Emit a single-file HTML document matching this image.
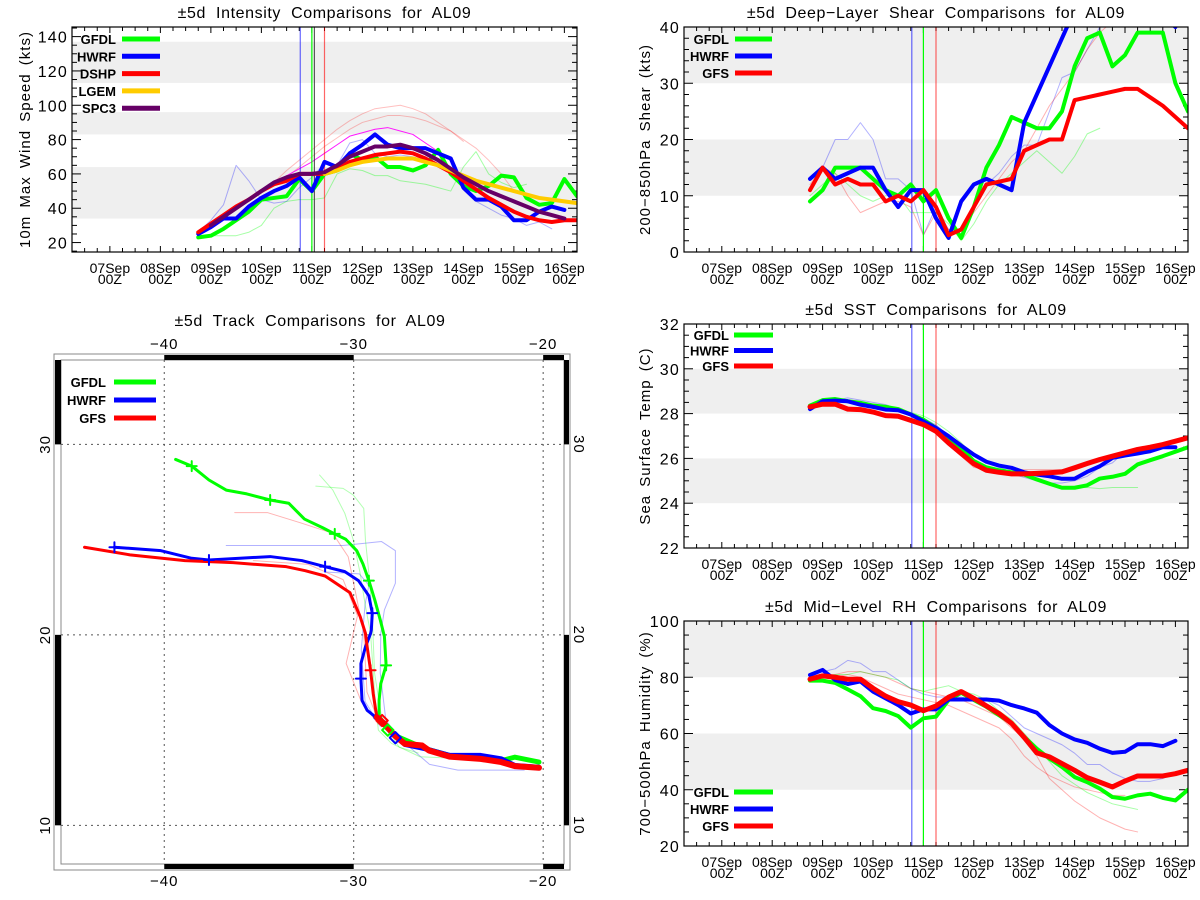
<!DOCTYPE html>
<html><head><meta charset="utf-8"><title>AL09 comparisons</title>
<style>
html,body{margin:0;padding:0;background:#fff;}
svg{display:block;font-family:"Liberation Sans",sans-serif;}
</style></head>
<body>
<svg id="fig" width="1200" height="900" viewBox="0 0 1200 900" xmlns="http://www.w3.org/2000/svg"></svg>
<script>
const dateLabels = ["07Sep","08Sep","09Sep","10Sep","11Sep","12Sep","13Sep","14Sep","15Sep","16Sep"];
const hourLabel = "00Z";
const seriesStart = 1.75;
const stepDays = 0.25;
const initTimes = [3.77, 4.0, 4.25];

const intGFDL = [23,24,28,33,38,45,46,47,57,50,60,62,72,68,70,64,64,62,65,74,60,53,50,53,59,58,46,42,43,57,47];
const intHWRF = [25,29,34,34,41,46,50,53,58,50,67,64,72,77,83,77,75,75,75,72,69,52,45,45,41,33,33,38,41,39];
const intDSHP = [26,31,36,41,45,50,54,56,60,60,60,63,67,69,71,72,73,72,69,65,61,56,51,46,42,38,35,33,32,33,33];
const intLGEM = [60,62,65,67,68,69,69,69,67,65,62,59,56,54,52,50,48,46,45,44,43];
const intLGEMStart = 4.25;
const intSPC3 = [30,35,40,45,50,55,58,60,60,61,65,70,73,76,76,77,75,72,68,63,58,54,50,47,44,41,38,36,34];
const intSPC3Start = 2.0;
const intThinRedA = [55,62,68,74,80,86,91,95,98,99,100,98,95,90,85,79];
const intThinRedB = [53,58,64,70,76,81,86,90,92,94,94,93,91,88,85,80,75,68,60,50];
const intThinMag = [55,59,63,67,72,77,82,84,86,87,85,83,78,73];
const intThinStart = 3.25;
const intThinBlue = [26,33,42,65,56,45,43,44,52,58,66,65,78,80,72,70,71,70,68,66,62,55,44,40,36,34,30,32,28];
const intThinGreen = [24,24,24,26,30,40,44,45,45,46,60,63,62,59,59,56,55,54,52,50,64,73,60,55,52,54];
const intThinGreenStart = 2.0;

const shrGFDL = [9,11,15,15,15,13,11,10,12,9,11,6,2.5,8,15,19,24,23,22,22,25,33,38,39,33,35,39,39,39,30,25];
const shrHWRF = [13,15,13,14,15,15,11,8,11,11,6,2.5,9,12,13,12,11,23,28,33,38,43,46,48,47,46,45,44,42,40];
const shrGFS  = [11,15,12,13,12,12,9,10,9,11,8,3,4,8,12,12.5,13,18,19,20,20,27,27.5,28,28.5,29,29,27.5,26,24,22];
const shrThinBlue = [13,15,20,20,23,20,13,13,11,3,8,4,4,8,12,14,17,19,19,25,31,32,36,40,42];
const shrThinRed  = [12,15,14,10,7,8,9,9,8,3,7,4,4,7,10,13,16,18,22,26,29,32,36,39,41];
const shrThinGreen= [10,12,14,12,10,9,10,10,7,7,7,5,2,5,9,12,14,16,18,16,14,17,21,22];
const shrThinStart = 1.75;

const sstGFDL = [28.36,28.6,28.65,28.55,28.48,28.36,28.3,28.2,27.96,27.73,27.36,26.9,26.47,25.88,25.6,25.47,25.38,25.28,25.06,24.87,24.69,24.69,24.8,25.1,25.18,25.31,25.73,25.92,26.1,26.3,26.5];
const sstHWRF = [28.2,28.55,28.58,28.55,28.4,28.3,28.18,28.15,27.96,27.66,27.36,26.99,26.57,26.17,25.85,25.68,25.58,25.38,25.28,25.2,25.09,25.09,25.4,25.65,26.02,26.13,26.22,26.32,26.5,26.5];
const sstGFS  = [28.3,28.42,28.42,28.2,28.18,28.07,27.91,27.88,27.7,27.51,27.21,26.69,26.22,25.76,25.47,25.38,25.31,25.31,25.33,25.36,25.4,25.58,25.77,25.95,26.1,26.25,26.4,26.5,26.62,26.77,26.92];
const sstThinBlue = [28.3,28.5,28.6,28.7,28.6,28.5,28.4,28.2,28.0,27.8,27.5,27.0,26.4,25.9,25.6,25.45,25.3,25.15,25.0,24.9,24.9,25.0,25.2,25.6,25.8,26.3];
const sstThinRed  = [28.3,28.4,28.4,28.3,28.2,28.1,28.0,27.9,27.8,27.6,27.2,26.6,26.1,25.6,25.5,25.45,25.5,25.5,25.5,25.5,25.5,25.6,25.7,25.9,26.0];
const sstThinGreen= [28.3,28.5,28.6,28.5,28.4,28.35,28.3,28.2,28.05,27.9,27.6,27.2,26.7,26.1,25.8,25.6,25.4,25.2,25.0,24.8,24.7,24.7,24.7,24.65,24.7,24.7,24.7];

const rhGFDL = [78.8,78.8,78,75.7,73.3,69,68,66.2,62.1,65.4,66,71.9,74.5,71.9,69.5,66.5,63.6,58.8,54.6,51.1,48.1,44.5,42.7,40.4,37.4,36.8,38,38.6,37.1,36.2,40];
const rhHWRF = [80.8,82.6,79,77.6,78.5,74.9,72.5,70.1,67.1,68.6,68.6,72.1,72.1,72.1,72.1,71.7,70.1,68.9,67.4,63,60,57.9,56.7,54.6,53.1,53.5,56.2,56.2,55.5,57.4];
const rhGFS  = [79.3,80.5,80,79.3,79.3,76.1,73.3,71.3,70.1,68.1,69.8,72.9,74.9,72.5,69.8,67.1,63.6,58.6,53.1,51.7,49.3,46.9,44.3,42.7,41,43.1,44.9,44.9,44.9,45.7,46.9];
const rhThinBlue = [81,82,83,86,85,82,82,79,76,74,73,73,73,72,72,70,66,62,60,58,56,53,49,49,46,44,43,43,44,46];
const rhThinRedA = [80,81,81,82,82,81,80,78,76,75,74,73,72,70,68,66,62,58,52,44,40,36,33,30,28,26,25];
const rhThinRedB = [80,80,80,81,80,78,76,74,73,72,71,70,68,66,64,62,58,52,48,45,43,41,40,39,38,38];
const rhThinGreen= [79,80,81,81,82,81,80,79,76,75,76,77,75,74,72,68,65,60,55,50,45,42,39,37,35,34,33];

const trkGFDL = [[-39.4,29.21],[-38.55,28.86],[-37.64,28.13],[-36.73,27.6],[-35.64,27.4],[-34.41,27.08],[-33.43,26.91],[-32.6,26.08],[-31.65,25.63],[-31.0,25.3],[-30.42,25.02],[-29.84,24.42],[-29.51,23.72],[-29.2,22.85],[-28.89,21.84],[-28.6,20.79],[-28.38,19.92],[-28.29,18.4],[-28.57,17.44],[-28.66,16.56],[-28.66,15.68],[-28.29,15.16],[-27.84,14.72],[-26.21,14.02],[-24.94,13.67],[-23.3,13.58],[-22.03,13.44],[-21.49,13.58],[-20.22,13.32]];
const trkHWRF = [[-42.63,24.6],[-40.18,24.42],[-38.55,24.02],[-37.64,23.93],[-36.01,24.02],[-34.41,24.11],[-32.74,23.9],[-31.51,23.58],[-30.47,23.32],[-29.75,22.85],[-29.2,22.05],[-29.02,21.14],[-29.07,20.26],[-29.11,20.07],[-29.38,19.37],[-29.62,18.49],[-29.62,17.7],[-29.56,16.56],[-29.29,16.04],[-28.84,15.68],[-28.38,15.33],[-27.84,14.72],[-27.3,14.25],[-26.21,14.02],[-24.94,13.67],[-23.3,13.67],[-22.21,13.49],[-21.49,13.14],[-20.22,13.05]];
const trkGFS = [[-44.21,24.6],[-41.81,24.2],[-38.91,23.9],[-36.37,23.79],[-33.56,23.58],[-32.56,23.37],[-31.51,23.09],[-30.2,22.22],[-29.66,20.96],[-29.38,20.08],[-29.29,19.37],[-29.11,18.14],[-28.97,16.91],[-28.78,15.68],[-28.38,15.33],[-27.84,14.72],[-27.3,14.28],[-26.39,14.19],[-26.03,13.93],[-24.94,13.61],[-23.3,13.49],[-22.21,13.32],[-21.49,13.11],[-20.22,13.02]];
const trkMarksGFDL = [[-38.55,28.86],[-34.41,27.08],[-31.0,25.3],[-29.2,22.85],[-28.29,18.4]];
const trkMarksHWRF = [[-42.63,24.6],[-37.64,23.93],[-31.51,23.58],[-29.02,21.14],[-29.62,17.7]];
const trkMarksGFS = [[-29.11,18.14]];
const trkThinRed = [[-36.28,26.42],[-34.56,26.42],[-32.83,25.89],[-31.11,25.33],[-30.29,24.1],[-29.93,22.36],[-29.47,20.09],[-29.3,17.0],[-28.7,15.5]];
const trkThinRed2 = [[-35.3,23.9],[-32.4,23.7],[-30.56,22.9],[-29.8,21.0],[-30.4,18.5],[-29.6,16.5],[-28.7,15.3]];
const trkThinBlue = [[-36.73,24.69],[-30.56,24.69],[-28.53,24.9],[-27.8,24.42],[-27.8,22.71],[-28.38,21.31],[-28.57,20.09],[-28.6,18.0],[-28.3,15.5],[-27.5,14.5],[-26.0,13.2],[-24.5,12.9],[-21.0,12.9]];
const trkThinBlue2 = [[-31.5,23.3],[-29.7,23.2],[-29.2,22.6],[-29.4,21.6],[-29.6,19.2],[-29.4,16.5],[-28.6,15.2]];
const trkThinGreen = [[-31.8,28.39],[-31.1,27.6],[-30.47,26.38],[-30.02,24.98],[-29.66,23.23],[-29.38,21.49],[-29.11,20.09],[-28.9,17.0],[-28.7,15.0],[-28.0,14.3],[-26.5,13.6],[-24.3,13.5]];
const trkThinGreen2 = [[-32.0,27.81],[-30.56,27.69],[-30.02,27.34],[-29.47,26.64],[-29.38,24.98],[-29.2,23.23],[-29.02,20.96],[-28.9,18.0],[-28.5,15.5],[-27.6,14.1],[-26.6,13.8]];
const lonTicks = [-40,-30,-20];
const latTicks = [10,20,30];
</script>
<script>
const NS = "http://www.w3.org/2000/svg";
const svg = document.getElementById("fig");
function mk(tag, attrs, parent) {
  const e = document.createElementNS(NS, tag);
  for (const k in attrs) e.setAttribute(k, attrs[k]);
  (parent || svg).appendChild(e);
  return e;
}
function txt(str, attrs, parent) {
  const e = mk("text", attrs, parent);
  e.textContent = str;
  return e;
}
const GREEN = "#00ff00", BLUE = "#0000ff", RED = "#ff0000", YEL = "#ffcc00", PUR = "#660066", BAND = "#efefef";

function makePanel(cfg) {
  const g = mk("g", {});
  
  
  const X = t => cfg.x0 + (t - cfg.tmin) / (cfg.tmax - cfg.tmin) * (cfg.x1 - cfg.x0);
  const Y = v => cfg.y1 - (v - cfg.vmin) / (cfg.vmax - cfg.vmin) * (cfg.y1 - cfg.y0);
  const cid = cfg.name + "-clip";
  const cp = mk("clipPath", {id: cid}, g);
  mk("rect", {x: cfg.x0, y: cfg.y0, width: cfg.x1 - cfg.x0, height: cfg.y1 - cfg.y0}, cp);
  cfg.bands.forEach(b => {
    const r = mk("rect", {x: cfg.x0, y: Y(Math.min(b[1], cfg.vmax)), width: cfg.x1 - cfg.x0, height: Y(b[0]) - Y(Math.min(b[1], cfg.vmax)), fill: BAND}, g);
    
    
  });
  const tt = txt(cfg.title, {x: (cfg.x0 + cfg.x1) / 2, y: cfg.y0 - 9, "text-anchor": "middle", "font-size": 16, "letter-spacing": 0.6, "word-spacing": 5, fill: "#000"}, g);
  
  
  const yl = txt(cfg.ylabel, {x: 0, y: 0, "text-anchor": "middle", "font-size": 15, "letter-spacing": 1, "word-spacing": 3, transform: `translate(${cfg.ylx},${(cfg.y0 + cfg.y1) / 2}) rotate(-90)`}, g);
  
  
  const tickG = mk("g", {stroke: "#000", "stroke-width": 1}, g);
  for (let t = Math.ceil(cfg.tmin * 4) / 4; t <= cfg.tmax + 1e-6; t += 0.25) {
    const x = X(t);
    const major = Math.abs(t - Math.round(t)) < 1e-6;
    const len = major ? 6 : 4;
    mk("line", {x1: x, x2: x, y1: cfg.y1, y2: cfg.y1 - len}, tickG);
    mk("line", {x1: x, x2: x, y1: cfg.y0, y2: cfg.y0 + len}, tickG);
  }
  dateLabels.forEach((d, i) => {
    const x = X(i);
    const l1 = txt(d, {x: x, y: cfg.y1 + 21, "text-anchor": "middle", "font-size": 14}, g);
    
    
    const l2 = txt(hourLabel, {x: x, y: cfg.y1 + 32, "text-anchor": "middle", "font-size": 14}, g);
    
    
  });
  for (let v = cfg.vminTick; v <= cfg.vmax + 1e-6; v += cfg.minor) {
    if (v < cfg.vmin) continue;
    const y = Y(v);
    const major = Math.abs((v - cfg.majorBase) / cfg.major - Math.round((v - cfg.majorBase) / cfg.major)) < 1e-6;
    const len = major ? 9 : 5;
    mk("line", {x1: cfg.x0, x2: cfg.x0 + len, y1: y, y2: y}, tickG);
    mk("line", {x1: cfg.x1, x2: cfg.x1 - len, y1: y, y2: y}, tickG);
    if (major) {
      const yt = txt(cfg.fmt(v), {x: cfg.x0 - 4, y: y + 6, "text-anchor": "end", "font-size": 16, "letter-spacing": 1.2}, g);
      
      
    }
  }
  const series = mk("g", {"clip-path": `url(#${cid})`, fill: "none", "stroke-linejoin": "round", "stroke-linecap": "round"}, g);
  (cfg.thin || []).forEach(s => {
    const pts = s.vals.map((v, i) => X(s.start + i * stepDays) + "," + Y(v)).join(" ");
    const pl = mk("polyline", {points: pts, stroke: s.color, "stroke-width": 1, opacity: s.op || 0.3}, series);
    
    
  });
  cfg.inits.forEach(s => {
    const l = mk("line", {x1: X(s.t), x2: X(s.t), y1: cfg.y0, y2: cfg.y1, stroke: s.color, "stroke-width": 1.2, opacity: s.op}, series);
    
    
  });
  cfg.series.forEach(s => {
    const pts = s.vals.map((v, i) => X(s.start + i * stepDays) + "," + Y(v)).join(" ");
    const pl = mk("polyline", {points: pts, stroke: s.color, "stroke-width": s.w || 4}, series);
    
    
  });
  mk("rect", {x: cfg.x0, y: cfg.y0, width: cfg.x1 - cfg.x0, height: cfg.y1 - cfg.y0, fill: "none", stroke: "#000", "stroke-width": 1.2}, g);
  const lg = mk("g", {}, g);
  
  
  cfg.legend.forEach((e, i) => {
    const y = cfg.legY + i * cfg.legDy;
    const le = mk("g", {}, lg);
    
    
    txt(e[0], {x: cfg.legTx, y: y + 5, "text-anchor": "end", "font-size": 13, "font-weight": "bold"}, le);
    mk("line", {x1: cfg.legL0, x2: cfg.legL1, y1: y, y2: y, stroke: e[1], "stroke-width": 5}, le);
  });
}

const tmin = -0.75, tmax = 9.25;
makePanel({
  name: "intensity-panel", title: "\u00b15d Intensity Comparisons for AL09", ylabel: "10m Max Wind Speed (kts)", ylx: 30,
  x0: 72, x1: 577, y0: 27, y1: 252, tmin, tmax, vmin: 14.5, vmax: 145.6, vminTick: 15, minor: 5, major: 20, majorBase: 0,
  fmt: v => String(v), bands: [[34, 64], [83, 96], [113, 137]],
  inits: [{t: initTimes[0], color: BLUE, op: 0.6}, {t: initTimes[1], color: GREEN, op: 1}, {t: initTimes[1] + 0.05, color: "#333", op: 0.8}, {t: initTimes[2], color: RED, op: 0.6}],
  thin: [
    {vals: intThinRedA, start: intThinStart, color: RED, op: 0.25},
    {vals: intThinRedB, start: intThinStart, color: RED, op: 0.25},
    {vals: intThinMag, start: intThinStart, color: "#ff00ff", op: 0.9},
    {vals: intThinBlue, start: seriesStart, color: BLUE, op: 0.3},
    {vals: intThinGreen, start: intThinGreenStart, color: GREEN, op: 0.35}
  ],
  series: [
    {key: "gfdl", vals: intGFDL, start: seriesStart, color: GREEN},
    {key: "hwrf", vals: intHWRF, start: seriesStart, color: BLUE},
    {key: "dshp", vals: intDSHP, start: seriesStart, color: RED},
    {key: "lgem", vals: intLGEM, start: intLGEMStart, color: YEL},
    {key: "spc3", vals: intSPC3, start: intSPC3Start, color: PUR}
  ],
  legend: [["GFDL", GREEN], ["HWRF", BLUE], ["DSHP", RED], ["LGEM", YEL], ["SPC3", PUR]],
  legY: 39, legDy: 17.3, legTx: 116, legL0: 122, legL1: 160
});
makePanel({
  name: "shear-panel", title: "\u00b15d Deep\u2212Layer Shear Comparisons for AL09", ylabel: "200\u2212850hPa Shear (kts)", ylx: 650,
  x0: 684, x1: 1188, y0: 27, y1: 252, tmin, tmax, vmin: 0, vmax: 40, vminTick: 0, minor: 2, major: 10, majorBase: 0,
  fmt: v => String(v), bands: [[10, 20], [30, 40]],
  inits: [{t: initTimes[0], color: BLUE, op: 0.6}, {t: initTimes[1], color: GREEN, op: 1}, {t: initTimes[2], color: RED, op: 0.6}],
  thin: [
    {vals: shrThinBlue, start: shrThinStart, color: BLUE, op: 0.3},
    {vals: shrThinRed, start: shrThinStart, color: RED, op: 0.3},
    {vals: shrThinGreen, start: shrThinStart, color: GREEN, op: 0.35}
  ],
  series: [
    {key: "gfdl", vals: shrGFDL, start: seriesStart, color: GREEN},
    {key: "hwrf", vals: shrHWRF, start: seriesStart, color: BLUE},
    {key: "gfs", vals: shrGFS, start: seriesStart, color: RED}
  ],
  legend: [["GFDL", GREEN], ["HWRF", BLUE], ["GFS", RED]],
  legY: 39, legDy: 17, legTx: 729, legL0: 735, legL1: 772
});
makePanel({
  name: "sst-panel", title: "\u00b15d SST Comparisons for AL09", ylabel: "Sea Surface Temp (C)", ylx: 650,
  x0: 684, x1: 1188, y0: 324, y1: 548, tmin, tmax, vmin: 22, vmax: 32, vminTick: 22, minor: 0.5, major: 2, majorBase: 0,
  fmt: v => String(v), bands: [[24, 26], [28, 30]],
  inits: [{t: initTimes[0], color: BLUE, op: 0.6}, {t: initTimes[1], color: GREEN, op: 1}, {t: initTimes[2], color: RED, op: 0.6}],
  thin: [
    {vals: sstThinBlue, start: seriesStart, color: BLUE, op: 0.3},
    {vals: sstThinRed, start: seriesStart, color: RED, op: 0.3},
    {vals: sstThinGreen, start: seriesStart, color: GREEN, op: 0.35}
  ],
  series: [
    {key: "gfdl", vals: sstGFDL, start: seriesStart, color: GREEN},
    {key: "hwrf", vals: sstHWRF, start: seriesStart, color: BLUE},
    {key: "gfs", vals: sstGFS, start: seriesStart, color: RED, w: 5}
  ],
  legend: [["GFDL", GREEN], ["HWRF", BLUE], ["GFS", RED]],
  legY: 335, legDy: 15.5, legTx: 729, legL0: 734, legL1: 773
});
makePanel({
  name: "rh-panel", title: "\u00b15d Mid\u2212Level RH Comparisons for AL09", ylabel: "700\u2212500hPa Humidity (%)", ylx: 650,
  x0: 684, x1: 1188, y0: 621, y1: 846, tmin, tmax, vmin: 20, vmax: 100, vminTick: 20, minor: 5, major: 20, majorBase: 0,
  fmt: v => String(v), bands: [[40, 60], [80, 100]],
  inits: [{t: initTimes[0], color: BLUE, op: 0.6}, {t: initTimes[1], color: GREEN, op: 1}, {t: initTimes[2], color: RED, op: 0.6}],
  thin: [
    {vals: rhThinBlue, start: seriesStart, color: BLUE, op: 0.3},
    {vals: rhThinRedA, start: seriesStart, color: RED, op: 0.3},
    {vals: rhThinRedB, start: seriesStart, color: RED, op: 0.3},
    {vals: rhThinGreen, start: seriesStart, color: GREEN, op: 0.35}
  ],
  series: [
    {key: "gfdl", vals: rhGFDL, start: seriesStart, color: GREEN},
    {key: "hwrf", vals: rhHWRF, start: seriesStart, color: BLUE},
    {key: "gfs", vals: rhGFS, start: seriesStart, color: RED, w: 5}
  ],
  legend: [["GFDL", GREEN], ["HWRF", BLUE], ["GFS", RED]],
  legY: 792, legDy: 17, legTx: 729, legL0: 734, legL1: 773
});

(function () {
  const g = mk("g", {});
  
  
  const ix0 = 61, ix1 = 564, iy0 = 360, iy1 = 864, ox0 = 54, ox1 = 570, oy0 = 354, oy1 = 870;
  const lonMin = -45.45, lonMax = -18.9, latMin = 7.97, latMax = 34.43;
  const LX = lon => ix0 + (lon - lonMin) / (lonMax - lonMin) * (ix1 - ix0);
  const LY = lat => iy1 - (lat - latMin) / (latMax - latMin) * (iy1 - iy0);
  const t = txt("\u00b15d Track Comparisons for AL09", {x: 310, y: 326, "text-anchor": "middle", "font-size": 16, "letter-spacing": 0.6, "word-spacing": 5}, g);
  
  
  mk("rect", {x: ox0, y: oy0, width: ox1 - ox0, height: oy1 - oy0, fill: "none", stroke: "#888", "stroke-width": 1}, g);
  mk("rect", {x: ix0, y: iy0, width: ix1 - ix0, height: iy1 - iy0, fill: "none", stroke: "#888", "stroke-width": 1}, g);
  [[LX(-40), LX(-30)], [LX(-20), ix1]].forEach(s => {
    mk("rect", {x: s[0], y: oy0 + 1, width: s[1] - s[0], height: iy0 - oy0 - 1, fill: "#000"}, g);
    mk("rect", {x: s[0], y: iy1, width: s[1] - s[0], height: oy1 - iy1 - 1, fill: "#000"}, g);
  });
  [[iy0, LY(30)], [LY(20), LY(10)]].forEach(s => {
    mk("rect", {x: ox0 + 1, y: s[0], width: ix0 - ox0 - 1, height: s[1] - s[0], fill: "#000"}, g);
    mk("rect", {x: ix1, y: s[0], width: ox1 - ix1 - 1, height: s[1] - s[0], fill: "#000"}, g);
  });
  lonTicks.forEach(lon => {
    const x = LX(lon);
    const l = mk("line", {x1: x, x2: x, y1: iy0, y2: iy1, stroke: "#555", "stroke-width": 1, "stroke-dasharray": "2,4"}, g);
    
    
    const lab = String(lon).replace("-", "\u2212");
    const a = txt(lab, {x: x, y: oy0 - 5, "text-anchor": "middle", "font-size": 15, "letter-spacing": 1}, g);
    
    
    const b = txt(lab, {x: x, y: oy1 + 16, "text-anchor": "middle", "font-size": 15, "letter-spacing": 1}, g);
    
    
  });
  latTicks.forEach(lat => {
    const y = LY(lat);
    const l = mk("line", {x1: ix0, x2: ix1, y1: y, y2: y, stroke: "#555", "stroke-width": 1, "stroke-dasharray": "2,4"}, g);
    
    
    const a = txt(String(lat), {x: 0, y: 0, "text-anchor": "middle", "font-size": 15, "letter-spacing": 1, transform: `translate(${ox0 - 4},${y}) rotate(-90)`}, g);
    
    
    const b = txt(String(lat), {x: 0, y: 0, "text-anchor": "middle", "font-size": 15, "letter-spacing": 1, transform: `translate(${ox1 + 4},${y}) rotate(90)`}, g);
    
    
  });
  const tg = mk("g", {fill: "none", "stroke-linejoin": "round", "stroke-linecap": "round"}, g);
  const P = arr => arr.map(p => LX(p[0]) + "," + LY(p[1])).join(" ");
  [[trkThinRed, RED], [trkThinRed2, RED], [trkThinBlue, BLUE], [trkThinBlue2, BLUE], [trkThinGreen, GREEN], [trkThinGreen2, GREEN]].forEach(s => {
    const pl = mk("polyline", {points: P(s[0]), stroke: s[1], "stroke-width": 1, opacity: 0.3}, tg);
    
    
  });
  [[trkGFDL, GREEN, "gfdl"], [trkHWRF, BLUE, "hwrf"], [trkGFS, RED, "gfs"]].forEach(s => {
    const pl = mk("polyline", {points: P(s[0]), stroke: s[1], "stroke-width": 3}, tg);
    
    
    const lower = s[0].filter(p => p[1] < 15.8);
    const pl2 = mk("polyline", {points: P(lower), stroke: s[1], "stroke-width": s[2] === "gfs" ? 6 : 5}, tg);
    
    
  });
  [[trkMarksGFDL, GREEN], [trkMarksHWRF, BLUE], [trkMarksGFS, RED]].forEach(s => {
    s[0].forEach(p => {
      const x = LX(p[0]), y = LY(p[1]);
      const m = mk("path", {d: `M${x - 5},${y}H${x + 5}M${x},${y - 5}V${y + 5}`, stroke: s[1], "stroke-width": 2}, tg);
      
      
    });
  });
  [[-28.5, 15.5, RED], [-28.2, 15.0, GREEN], [-27.8, 14.6, BLUE]].forEach(s => {
    const m = mk("rect", {x: LX(s[0]) - 4, y: LY(s[1]) - 4, width: 8, height: 8, fill: "none", stroke: s[2], "stroke-width": 2, transform: `rotate(45 ${LX(s[0])} ${LY(s[1])})`}, tg);
    
    
  });
  const lg = mk("g", {}, g);
  
  
  [["GFDL", GREEN, 382], ["HWRF", BLUE, 400], ["GFS", RED, 418]].forEach(e => {
    const le = mk("g", {}, lg);
    
    
    txt(e[0], {x: 106, y: e[2] + 5, "text-anchor": "end", "font-size": 13, "font-weight": "bold"}, le);
    mk("line", {x1: 114, x2: 156, y1: e[2], y2: e[2], stroke: e[1], "stroke-width": 5}, le);
  });
})();
</script>
</body></html>
